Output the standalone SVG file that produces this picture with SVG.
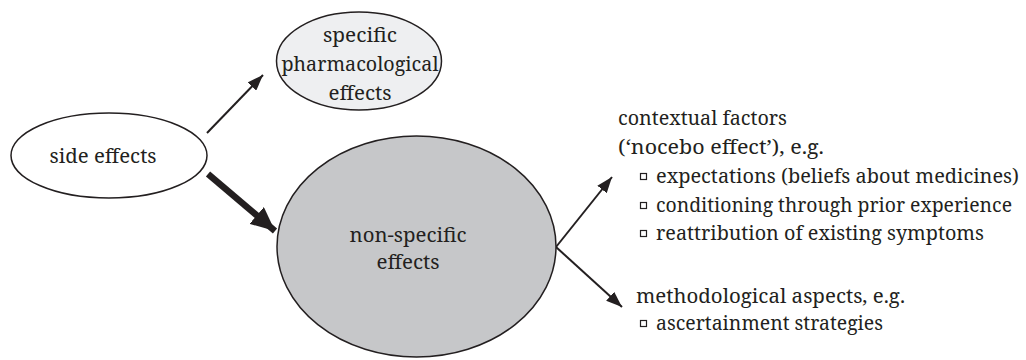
<svg xmlns="http://www.w3.org/2000/svg" width="1026" height="360" viewBox="0 0 1026 360">
<style>
text{font-family:"Noto Serif","DejaVu Serif",serif;font-size:20px;fill:#231f20}
.c{text-anchor:middle}
.node{stroke:#231f20;stroke-width:1.5}
.ln{stroke:#231f20;fill:none}
.b{fill:none;stroke:#231f20;stroke-width:1.2}
</style>
<defs>
<marker id="ah" viewBox="0 0 16 12" refX="16" refY="6" markerWidth="16" markerHeight="12" markerUnits="userSpaceOnUse" orient="auto">
<path d="M0,0 L16,6 L0,12 z" fill="#231f20"/>
</marker>
<marker id="ahT" viewBox="0 0 24 22" refX="24" refY="11" markerWidth="24" markerHeight="22" markerUnits="userSpaceOnUse" orient="auto">
<path d="M0,0 L24,11 L0,22 z" fill="#231f20"/>
</marker>
</defs>
<g id="connectors">
<line class="ln" x1="207" y1="133" x2="263" y2="75" stroke-width="2" marker-end="url(#ah)"/>
<line class="ln" x1="208" y1="174" x2="275" y2="231" stroke-width="6.5" marker-end="url(#ahT)"/>
<line class="ln" x1="556" y1="247" x2="612" y2="177" stroke-width="2" marker-end="url(#ah)"/>
<line class="ln" x1="556" y1="247" x2="622" y2="307" stroke-width="2" marker-end="url(#ah)"/>
</g>
<g id="side-effects">
<ellipse class="node" cx="109" cy="155.5" rx="98" ry="42.5" fill="#ffffff"/>
<text class="c" x="103" y="163" textLength="107" lengthAdjust="spacingAndGlyphs">side effects</text>
</g>
<g id="specific">
<ellipse class="node" cx="359" cy="61" rx="82.5" ry="49" fill="#eeeff1"/>
<text class="c" x="360" y="42" textLength="74" lengthAdjust="spacingAndGlyphs">specific</text>
<text class="c" x="360" y="71" textLength="157" lengthAdjust="spacingAndGlyphs">pharmacological</text>
<text class="c" x="360" y="100" textLength="63" lengthAdjust="spacingAndGlyphs">effects</text>
</g>
<g id="non-specific">
<ellipse class="node" cx="416.5" cy="246.5" rx="139.5" ry="110.5" fill="#c6c7c9"/>
<text class="c" x="408" y="242" textLength="117" lengthAdjust="spacingAndGlyphs">non-specific</text>
<text class="c" x="408" y="269" textLength="63" lengthAdjust="spacingAndGlyphs">effects</text>
</g>
<g id="contextual">
<text x="618" y="125" textLength="169" lengthAdjust="spacingAndGlyphs">contextual factors</text>
<text x="618" y="154" textLength="206" lengthAdjust="spacingAndGlyphs">(‘nocebo effect’), e.g.</text>
<rect class="b" x="640.5" y="173.5" width="6" height="6"/>
<text x="656" y="183" textLength="363" lengthAdjust="spacingAndGlyphs">expectations (beliefs about medicines)</text>
<rect class="b" x="640.5" y="202.5" width="6" height="6"/>
<text x="656" y="212" textLength="356" lengthAdjust="spacingAndGlyphs">conditioning through prior experience</text>
<rect class="b" x="640.5" y="230.5" width="6" height="6"/>
<text x="656" y="240" textLength="328" lengthAdjust="spacingAndGlyphs">reattribution of existing symptoms</text>
</g>
<g id="methodological">
<text x="636" y="303" textLength="269" lengthAdjust="spacingAndGlyphs">methodological aspects, e.g.</text>
<rect class="b" x="640.5" y="320.5" width="6" height="6"/>
<text x="656" y="330" textLength="227" lengthAdjust="spacingAndGlyphs">ascertainment strategies</text>
</g>
</svg>
